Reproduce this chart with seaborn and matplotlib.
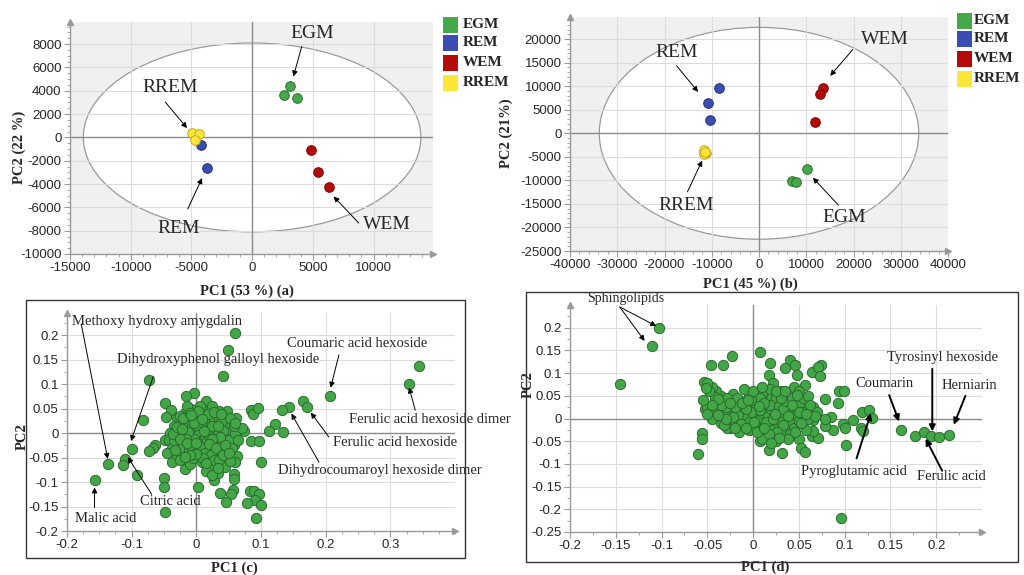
import matplotlib
matplotlib.use("Agg")
import matplotlib.pyplot as plt
import seaborn as sns
import pandas as pd
from matplotlib.patches import Ellipse, Rectangle
from matplotlib.ticker import MultipleLocator, AutoMinorLocator, FuncFormatter

# ---------------- data ----------------
groups = ["EGM", "REM", "WEM", "RREM"]
group_colors = {"EGM": "#45a84a", "REM": "#3a4db3", "WEM": "#b50a0a", "RREM": "#fde63a"}
edge_colors = {"EGM": "#2c6e30", "REM": "#24307a", "WEM": "#7a0505", "RREM": "#c9a820"}

# panel (a) scores
a_group = ["EGM", "EGM", "EGM", "REM", "REM", "WEM", "WEM", "WEM", "RREM", "RREM", "RREM"]
a_pc1 = [3120, 2650, 3670, -4250, -3730, 4810, 5440, 6350, -4950, -4390, -4670]
a_pc2 = [4370, 3660, 3370, -690, -2630, -1110, -2970, -4260, 370, 260, -260]

# panel (b) scores
b_group = ["REM", "REM", "REM", "WEM", "WEM", "WEM", "RREM", "RREM", "RREM", "RREM", "EGM", "EGM", "EGM"]
b_pc1 = [-8520, -10770, -10280, 13520, 12960, 11900, -11600, -11270, -11690, -11480, 10140, 6900, 7820]
b_pc2 = [9640, 6500, 2790, 9710, 8430, 2430, -3640, -4210, -4360, -3930, -7500, -10070, -10360]

# panel (c) loadings
c_loadings = [
    (0.0605, 0.205), (0.0497, 0.169), (0.041, 0.116), (-0.073, 0.108), (-0.0036, 0.082),
    (-0.0164, 0.075), (0.0154, 0.066), (-0.049, 0.061), (-0.0395, 0.048), (-0.047, 0.032),
    (-0.082, 0.026), (0.207, 0.075), (0.345, 0.136), (0.329, 0.101), (0.165, 0.066),
    (0.171, 0.053), (0.1426, 0.054), (0.132, 0.047), (0.122, 0.0185), (0.113, 0.005),
    (0.134, 0.002), (0.085, 0.047), (0.087, 0.038), (0.096, 0.051), (0.074, 0.005),
    (0.062, 0.007), (0.085, -0.017), (0.097, -0.016), (0.100, -0.060), (0.058, -0.025),
    (0.063, -0.046), (0.060, -0.060), (0.058, -0.083), (0.059, -0.094), (0.056, -0.116),
    (0.053, -0.125), (0.046, -0.140), (0.037, -0.123), (0.027, -0.096), (0.034, -0.082),
    (0.041, -0.063), (0.083, -0.119), (0.089, -0.118), (0.097, -0.125), (0.091, -0.136),
    (0.079, -0.142), (0.100, -0.146), (0.093, -0.173), (0.003, -0.111), (-0.049, -0.161),
    (-0.050, -0.092), (-0.050, -0.111), (-0.018, -0.073), (-0.010, -0.063), (-0.038, -0.060),
    (-0.048, -0.014), (-0.064, -0.025), (-0.067, -0.031), (-0.073, -0.036), (-0.091, -0.085),
    (-0.0995, -0.032), (-0.111, -0.054), (-0.114, -0.066), (-0.137, -0.064), (-0.157, -0.095),
    (0.000, 0.000), (0.005, -0.005), (0.010, -0.010), (-0.005, 0.005), (0.008, 0.008),
    (-0.010, -0.005), (0.015, 0.002), (0.002, -0.015), (0.012, -0.020), (-0.008, -0.018),
    (0.020, -0.012), (0.018, 0.012), (-0.015, 0.010), (-0.020, -0.010), (0.025, 0.005),
    (0.005, 0.020), (-0.003, 0.030), (0.010, 0.035), (-0.012, 0.025), (-0.020, 0.018),
    (-0.025, 0.005), (-0.030, -0.005), (-0.028, -0.020), (-0.022, -0.030), (-0.012, -0.035),
    (0.000, -0.030), (0.008, -0.040), (0.018, -0.035), (0.025, -0.025), (0.030, -0.015),
    (0.032, 0.000), (0.028, 0.018), (0.022, 0.030), (0.015, 0.045), (0.005, 0.055),
    (-0.008, 0.050), (-0.018, 0.040), (-0.030, 0.030), (-0.035, 0.015), (-0.040, 0.000),
    (-0.042, -0.015), (-0.038, -0.030), (-0.045, -0.040), (-0.030, -0.045), (0.012, -0.055),
    (0.020, -0.050), (0.030, -0.045), (0.038, -0.035), (0.040, -0.020), (0.045, -0.005),
    (0.040, 0.015), (0.035, 0.030), (0.045, 0.030), (0.050, 0.020), (0.055, 0.005),
    (0.050, -0.015), (0.055, -0.030), (0.048, -0.045), (0.040, -0.055), (0.030, -0.062),
    (0.020, -0.068), (0.015, -0.078), (0.025, -0.085), (0.045, -0.070), (0.052, -0.058),
    (0.060, 0.000), (0.062, 0.030), (0.048, 0.045), (0.035, 0.045), (0.025, 0.055),
    (-0.015, 0.055), (-0.025, -0.055), (-0.005, -0.050), (-0.018, 0.000), (0.005, 0.010),
    (0.012, 0.025), (-0.008, -0.008), (0.003, -0.022), (0.015, -0.028), (0.022, -0.005),
    (-0.012, 0.015), (0.030, 0.008), (0.008, -0.060), (-0.035, -0.015), (0.065, -0.015),
    (0.070, 0.010), (0.058, 0.015), (0.000, 0.040), (-0.025, 0.035),
    (0.004, -0.006), (0.006, -0.012), (0.009, -0.004), (0.001, -0.009), (-0.002, -0.002),
    (0.007, 0.002), (0.011, -0.014), (0.013, -0.007), (0.003, 0.004), (-0.004, -0.012),
    (0.016, -0.016), (0.010, 0.014), (-0.006, 0.012), (0.000, 0.016), (0.019, -0.004),
    (0.017, 0.006), (-0.013, 0.002), (-0.016, -0.012), (-0.010, -0.024), (0.006, -0.028),
    (0.014, -0.040), (0.022, -0.045), (0.028, -0.055), (0.035, -0.055), (0.033, -0.072),
    (0.010, -0.050), (0.000, -0.042), (-0.010, -0.045), (-0.018, -0.048), (-0.033, -0.035),
    (-0.036, -0.002), (-0.030, 0.012), (-0.020, 0.030), (-0.010, 0.040), (0.002, 0.045),
    (0.018, 0.038), (0.028, 0.042), (0.038, 0.022), (0.042, 0.005), (0.036, -0.008),
    (0.025, -0.012), (0.024, 0.014), (0.012, 0.005), (-0.004, 0.020), (-0.022, 0.008),
    (-0.026, -0.012), (-0.014, -0.020), (0.000, -0.020), (0.020, -0.022), (0.030, -0.030),
    (0.045, -0.025), (0.052, 0.030), (0.060, 0.020), (0.038, 0.038), (0.008, 0.028),
    (-0.008, 0.036), (0.015, -0.062), (0.042, -0.045), (0.050, -0.040), (0.033, 0.015),
]

# panel (d) loadings
d_loadings = [
    (-0.103, 0.199), (-0.1105, 0.159), (-0.145, 0.075), (-0.0605, -0.0775), (-0.056, -0.033),
    (-0.056, -0.045), (-0.053, 0.022), (-0.054, 0.080), (-0.046, 0.117), (-0.033, 0.118),
    (-0.023, 0.138), (0.007, 0.147), (0.018, 0.122), (0.017, 0.095), (0.022, 0.078),
    (0.040, 0.129), (0.035, 0.112), (0.0457, 0.118), (0.048, 0.095), (0.057, 0.073),
    (0.0645, 0.102), (0.074, 0.118), (0.0707, 0.114), (0.0735, 0.0935), (0.078, 0.044),
    (0.0935, 0.060), (0.0996, 0.060), (0.0924, 0.035), (0.119, 0.0138), (0.127, 0.019),
    (0.130, 0.001), (0.109, -0.003), (0.098, -0.012), (0.100, -0.022), (0.118, -0.022),
    (0.120, -0.028), (0.102, -0.058), (0.087, -0.026), (0.079, -0.017), (0.085, 0.004),
    (0.078, -0.001), (0.065, -0.003), (0.0645, -0.039), (0.071, -0.044), (0.065, -0.028),
    (0.050, -0.046), (0.052, -0.064), (0.057, -0.073), (0.032, -0.075), (0.017, -0.070),
    (0.008, -0.049), (0.161, -0.025), (0.177, -0.039), (0.187, -0.030), (0.194, -0.038),
    (0.203, -0.041), (0.214, -0.037), (0.096, -0.220),
    (0.000, 0.000), (0.005, 0.003), (-0.005, -0.003), (0.010, 0.008), (-0.010, 0.005),
    (0.008, -0.008), (-0.008, -0.010), (0.015, 0.000), (-0.015, 0.000), (0.002, 0.012),
    (0.003, -0.015), (0.020, 0.012), (-0.020, 0.012), (0.018, -0.012), (-0.018, -0.015),
    (0.025, 0.020), (-0.025, 0.020), (0.028, 0.005), (-0.028, 0.003), (0.025, -0.020),
    (-0.025, -0.020), (0.012, 0.025), (-0.012, 0.025), (0.005, 0.035), (-0.005, 0.030),
    (0.015, 0.040), (-0.015, 0.040), (0.030, 0.035), (-0.030, 0.035), (0.035, 0.045),
    (-0.035, 0.050), (0.040, 0.055), (-0.040, 0.060), (0.045, 0.070), (-0.045, 0.070),
    (-0.050, 0.078), (0.030, 0.060), (-0.022, 0.055), (0.020, 0.050), (0.010, 0.055),
    (-0.005, 0.050), (0.040, 0.020), (0.045, 0.005), (0.040, -0.010), (0.035, -0.025),
    (0.030, -0.035), (0.022, -0.040), (0.012, -0.030), (-0.005, -0.025), (-0.015, -0.030),
    (-0.028, -0.022), (-0.035, -0.010), (-0.040, 0.005), (-0.045, 0.015), (-0.038, 0.020),
    (-0.050, 0.025), (0.050, 0.030), (0.055, 0.045), (0.050, 0.060), (0.035, 0.010),
    (0.030, -0.008), (0.020, -0.025), (0.015, 0.018), (-0.010, 0.018), (0.000, 0.022),
    (0.007, -0.022), (-0.003, 0.008), (0.012, -0.004), (-0.012, -0.006), (0.022, 0.030),
    (-0.032, 0.015), (0.045, -0.020), (0.050, -0.005), (0.055, 0.015), (0.030, 0.025),
    (0.025, 0.045), (-0.018, 0.045), (-0.028, 0.045), (0.008, 0.045), (-0.042, 0.040),
    (-0.010, 0.065), (0.018, 0.065), (0.025, -0.050), (0.010, -0.045), (0.040, -0.035),
    (0.060, 0.000), (0.058, -0.025), (0.065, 0.025), (0.070, 0.015), (-0.020, -0.005),
    (0.003, -0.005),
    (0.002, 0.002), (0.006, -0.002), (-0.004, 0.004), (0.004, 0.007), (-0.007, 0.000),
    (0.009, 0.002), (0.001, -0.008), (-0.002, 0.015), (0.011, 0.012), (-0.011, 0.010),
    (0.016, 0.006), (-0.016, 0.007), (0.014, -0.008), (-0.013, -0.012), (0.007, 0.018),
    (-0.008, 0.022), (0.022, 0.000), (-0.022, 0.003), (0.020, 0.020), (-0.020, 0.025),
    (0.018, 0.030), (-0.030, 0.025), (0.028, 0.028), (-0.035, 0.030), (0.033, 0.022),
    (-0.042, 0.048), (-0.048, 0.060), (-0.052, 0.068), (-0.038, 0.042), (-0.025, 0.035),
    (0.036, 0.038), (0.042, 0.045), (0.048, 0.052), (0.043, 0.030), (0.038, 0.005),
    (0.033, -0.015), (0.026, -0.030), (0.017, -0.035), (0.004, -0.030), (-0.008, -0.020),
    (-0.020, -0.020), (-0.032, -0.015), (-0.045, -0.002), (-0.050, 0.010), (0.050, 0.015),
    (0.052, -0.010), (0.046, -0.030), (0.038, -0.045), (0.028, -0.042), (0.020, -0.055),
    (0.012, -0.020), (0.024, 0.010), (0.030, 0.045), (0.012, 0.035), (-0.002, 0.040),
    (-0.012, 0.035), (0.000, 0.060), (0.010, 0.070), (0.025, 0.060), (0.060, 0.050),
    (0.062, 0.030), (0.068, 0.005), (0.058, 0.010), (-0.030, 0.000), (-0.038, 0.008),
    (-0.045, 0.030), (-0.055, 0.040), (0.006, 0.028), (-0.006, 0.040), (0.035, 0.060),
]

# annotations: (text, text_x, text_y, arrow_from, arrow_to)
a_notes = [("EGM", 4920, 8940, (4090, 7800), (3400, 5230)),
           ("RREM", -6770, 4310, (-7150, 3030), (-5360, 800)),
           ("REM", -6050, -7800, (-5300, -6140), (-4120, -3490)),
           ("WEM", 11130, -7510, (8780, -7340), (6710, -5060))]
b_notes = [("WEM", 26690, 19930, (19860, 17790), (15070, 12210)),
           ("REM", -17460, 17210, (-17460, 14360), (-12890, 8790)),
           ("RREM", -15350, -15430, (-15140, -12430), (-12040, -5790)),
           ("EGM", 17960, -17930, (16830, -15290), (11410, -9430))]
c_notes = [("Dihydroxyphenol galloyl hexoside", 0.033, 0.1507, (-0.0667, 0.115), (-0.101, -0.0164)),
           ("Coumaric acid hexoside", 0.249, 0.1836, (0.2205, 0.1596), (0.2077, 0.0925)),
           ("Ferulic acid hexoside dimer", 0.3615, 0.0274, (0.3385, 0.0466), (0.329, 0.093)),
           ("Ferulic acid hexoside", 0.3077, -0.0199, (0.205, -0.0082), (0.177, 0.0418)),
           ("Dihydrocoumaroyl hexoside dimer", 0.2836, -0.0774, (0.1897, -0.0596), (0.147, 0.0397)),
           ("Citric acid", -0.040, -0.139, (-0.0692, -0.1247), (-0.106, -0.0493)),
           ("Malic acid", -0.140, -0.174, (-0.1574, -0.152), (-0.1574, -0.111))]
c_left_note = ("Methoxy hydroxy amygdalin", -0.193, 0.228, (-0.178, 0.2226), (-0.137, -0.053))
d_notes = [("Tyrosinyl hexoside", 0.2072, 0.1333, (0.1957, 0.1094), (0.1957, -0.0283)),
           ("Coumarin", 0.1438, 0.0768, (0.1486, 0.0514), (0.1594, -0.0065)),
           ("Herniarin", 0.2362, 0.0732, (0.2319, 0.050), (0.2192, -0.0138)),
           ("Pyroglutamic acid", 0.1105, -0.1174, (0.113, -0.0877), (0.1286, 0.0116)),
           ("Ferulic acid", 0.2167, -0.1275, (0.2065, -0.1152), (0.1884, -0.0442))]
d_sphingo = ("Sphingolipids", -0.1395, 0.2638, (-0.1457, 0.2457), [(-0.1058, 0.2036), (-0.1185, 0.171)])

# ---------------- style ----------------
sns.set_theme(style="white")
plt.rcParams["font.family"] = ["Liberation Sans", "DejaVu Sans"]
plt.rcParams["axes.unicode_minus"] = False
SERIF = ["Liberation Serif", "DejaVu Serif"]

W, H = 1024, 575
fig = plt.figure(figsize=(W / 100, H / 100), dpi=100)
fig.patch.set_facecolor("white")


def px_axes(x0, y0, x1, y1):
    return fig.add_axes([x0 / W, 1 - y1 / H, (x1 - x0) / W, (y1 - y0) / H])


def ftext(x, y, s, **kw):
    fig.text(x / W, 1 - y / H, s, family=SERIF, **kw)


fmt = FuncFormatter(lambda v, p: ("%g" % round(v, 4)) if abs(v) > 1e-12 else "0")

AXC = "#9a9a9a"


def style_axes(ax, face, xmaj, ymaj, xminor, yminor):
    ax.set_facecolor(face)
    ax.set_axisbelow(True)
    for s in ["top", "right"]:
        ax.spines[s].set_visible(False)
    for s in ["left", "bottom"]:
        ax.spines[s].set_color(AXC)
        ax.spines[s].set_linewidth(1.0)
    ax.xaxis.set_major_locator(MultipleLocator(xmaj))
    ax.yaxis.set_major_locator(MultipleLocator(ymaj))
    ax.xaxis.set_minor_locator(AutoMinorLocator(xminor))
    ax.yaxis.set_minor_locator(AutoMinorLocator(yminor))
    ax.xaxis.set_major_formatter(fmt)
    ax.yaxis.set_major_formatter(fmt)
    ax.tick_params(which="major", direction="out", length=4, width=0.8, color=AXC,
                   labelsize=9.5, pad=2, left=True, bottom=True)
    ax.tick_params(which="minor", direction="out", length=2, width=0.6, color=AXC,
                   left=True, bottom=True)
    ax.grid(True, which="major", color="#dcdcdc", linewidth=0.8)
    ax.axhline(0, color="#8c8c8c", lw=1.0, zorder=0.8)
    ax.axvline(0, color="#8c8c8c", lw=1.0, zorder=0.8)
    ax.plot([0], [1], marker="^", color=AXC, ms=5, transform=ax.transAxes, clip_on=False)
    ax.plot([1], [0], marker=">", color=AXC, ms=5, transform=ax.transAxes, clip_on=False)
    ax.set_xlabel("")
    ax.set_ylabel("")


def score_panel(ax, grp, x, y):
    df = pd.DataFrame({"PC1": x, "PC2": y, "group": grp})
    for g in groups:
        sub = df[df.group == g]
        if len(sub):
            sns.scatterplot(data=sub, x="PC1", y="PC2", color=group_colors[g],
                            edgecolor=edge_colors[g], linewidth=0.7, s=48, ax=ax,
                            legend=False, zorder=3)


def annotate(ax, notes, size, lw=0.7, ha="center", ms=8):
    for t, tx, ty, af, at in notes:
        ax.text(tx, ty, t, ha=ha, va="center", fontsize=size, family=SERIF, zorder=5)
        ax.annotate("", xy=at, xytext=af,
                    arrowprops=dict(arrowstyle="-|>", color="black", lw=lw,
                                    mutation_scale=ms, shrinkA=0, shrinkB=0), zorder=5)


def legend(x0, rows_y, labx):
    for g, yy in zip(groups, rows_y):
        fig.patches.append(Rectangle((x0 / W, 1 - (yy + 8) / H), 15 / W, 16 / H,
                                     transform=fig.transFigure, facecolor=group_colors[g],
                                     edgecolor="none"))
        ftext(labx, yy, g, fontsize=11, fontweight="bold", va="center", ha="left")


# ---------------- panel (a) ----------------
axa = px_axes(70, 22, 433, 254)
axa.add_patch(Ellipse((0, 0), 2 * 13900, 2 * 8100, facecolor="white", edgecolor="#9a9a9a",
                      lw=0.9, zorder=0.3))
score_panel(axa, a_group, a_pc1, a_pc2)
style_axes(axa, "#f0f0f0", 5000, 2000, 5, 4)
axa.set_xlim(-15000, 14900)
axa.set_ylim(-10000, 9900)
annotate(axa, a_notes, 14)
ftext(19, 147, "PC2 (22 %)", fontsize=10.5, fontweight="bold", rotation=90, ha="center", va="center")
ftext(247, 291, "PC1 (53 %) (a)", fontsize=10.5, fontweight="bold", ha="center", va="center")
legend(443, [25, 43, 63, 83], 463)

# ---------------- panel (b) ----------------
axb = px_axes(570, 17, 948, 251)
axb.add_patch(Ellipse((0, 0), 2 * 33800, 2 * 22500, facecolor="white", edgecolor="#9a9a9a",
                      lw=0.9, zorder=0.3))
score_panel(axb, b_group, b_pc1, b_pc2)
style_axes(axb, "#f0f0f0", 10000, 5000, 5, 5)
axb.set_xlim(-40000, 40000)
axb.set_ylim(-25000, 24700)
annotate(axb, b_notes, 14)
ftext(506, 133, "PC2 (21%)", fontsize=10.5, fontweight="bold", rotation=90, ha="center", va="center")
ftext(750, 284, "PC1 (45 %) (b)", fontsize=10.5, fontweight="bold", ha="center", va="center")
legend(957, [21, 39, 59, 79], 974)

# ---------------- panel (c) ----------------
fig.patches.append(Rectangle((26 / W, 1 - 558 / H), (465 - 26) / W, (558 - 300) / H,
                             transform=fig.transFigure, facecolor="none", edgecolor="#333333", lw=1.0))
axc = px_axes(67, 313, 455, 531)
cdf = pd.DataFrame(c_loadings, columns=["PC1", "PC2"])
sns.scatterplot(data=cdf, x="PC1", y="PC2", color="#42a647", edgecolor="#2a6b2e",
                linewidth=0.7, s=55, ax=axc, legend=False, zorder=3)
style_axes(axc, "white", 0.1, 0.05, 4, 2)
axc.set_xlim(-0.2, 0.4)
axc.set_ylim(-0.2, 0.245)
axc.set_xticks([-0.2, -0.1, 0, 0.1, 0.2, 0.3])
annotate(axc, c_notes, 10.5)
annotate(axc, [c_left_note], 10.5, ha="left")
ftext(22, 437, "PC2", fontsize=10.5, fontweight="bold", rotation=90, ha="center", va="center")
ftext(234, 568, "PC1 (c)", fontsize=10.5, fontweight="bold", ha="center", va="center")

# ---------------- panel (d) ----------------
fig.patches.append(Rectangle((526 / W, 1 - 562 / H), (1018 - 526) / W, (562 - 292) / H,
                             transform=fig.transFigure, facecolor="none", edgecolor="#333333", lw=1.0))
axd = px_axes(570, 305, 982, 532)
ddf = pd.DataFrame(d_loadings, columns=["PC1", "PC2"])
sns.scatterplot(data=ddf, x="PC1", y="PC2", color="#42a647", edgecolor="#2a6b2e",
                linewidth=0.7, s=55, ax=axd, legend=False, zorder=3)
style_axes(axd, "white", 0.05, 0.05, 2, 2)
axd.set_xlim(-0.2, 0.25)
axd.set_ylim(-0.25, 0.25)
axd.set_xticks([-0.2, -0.15, -0.1, -0.05, 0, 0.05, 0.1, 0.15, 0.2])
axd.set_yticks([-0.25, -0.2, -0.15, -0.1, -0.05, 0, 0.05, 0.1, 0.15, 0.2])
annotate(axd, d_notes, 10.5, lw=1.4, ms=9)
t, tx, ty, af, targets = d_sphingo
axd.text(tx, ty, t, ha="center", va="center", fontsize=10, family=SERIF, zorder=5)
for tg in targets:
    axd.annotate("", xy=tg, xytext=af,
                 arrowprops=dict(arrowstyle="-|>", color="black", lw=0.7, mutation_scale=8,
                                 shrinkA=0, shrinkB=0), zorder=5)
ftext(528, 385, "PC2", fontsize=10.5, fontweight="bold", rotation=90, ha="center", va="center")
ftext(765, 567, "PC1 (d)", fontsize=10.5, fontweight="bold", ha="center", va="center")

fig.savefig("out.png", dpi=100)
